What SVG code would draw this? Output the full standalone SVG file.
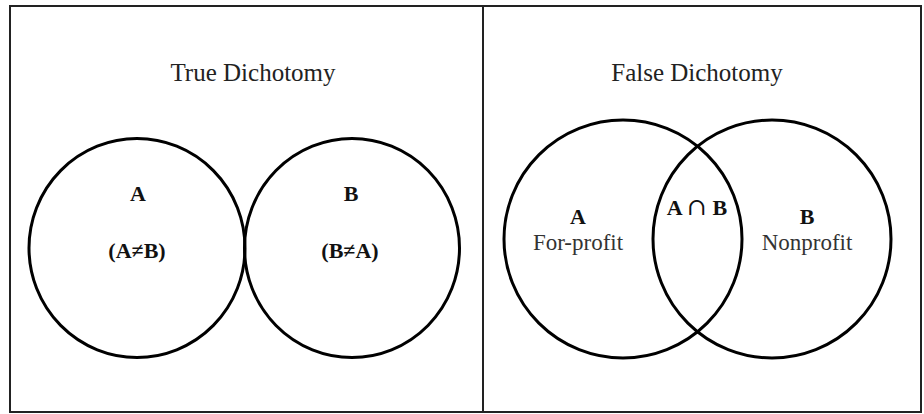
<svg xmlns="http://www.w3.org/2000/svg" width="924" height="414" viewBox="0 0 924 414">
<style>
.frame{fill:none;stroke:#222;stroke-width:2}
.circ{fill:none;stroke:#000;stroke-width:3}
.title{font-family:"Liberation Serif",serif;font-size:25px;fill:#222;text-anchor:middle}
.lbl{font-family:"Liberation Serif",serif;font-size:22px;font-weight:bold;fill:#111;text-anchor:middle}
.sub{font-family:"Liberation Serif",serif;font-size:23px;fill:#333;text-anchor:middle}
.cap{font-family:"DejaVu Serif",serif;font-size:24px;font-weight:normal}
</style>
<rect width="924" height="414" fill="#fff"/>
<g id="frame">
<rect class="frame" x="10" y="6" width="911" height="406"/>
<line class="frame" x1="483" y1="6" x2="483" y2="412"/>
</g>
<g id="true-dichotomy">
<text class="title" x="253" y="81">True Dichotomy</text>
<g id="true-A">
<ellipse class="circ" cx="137" cy="248" rx="108" ry="109.5"/>
<text class="lbl" x="138" y="201">A</text>
<text class="lbl" x="137" y="258">(A≠B)</text>
</g>
<g id="true-B">
<ellipse class="circ" cx="352" cy="248" rx="107.5" ry="109.5"/>
<text class="lbl" x="351" y="201">B</text>
<text class="lbl" x="350" y="258">(B≠A)</text>
</g>
</g>
<g id="false-dichotomy">
<text class="title" x="697" y="81">False Dichotomy</text>
<g id="false-A">
<circle class="circ" cx="623" cy="239" r="119"/>
<text class="lbl" x="578" y="224">A</text>
<text class="sub" x="578" y="250">For-profit</text>
</g>
<g id="false-B">
<circle class="circ" cx="772" cy="239" r="119"/>
<text class="lbl" x="807" y="224">B</text>
<text class="sub" x="807" y="250">Nonprofit</text>
</g>
<g id="intersection">
<text class="lbl" x="697" y="215">A <tspan class="cap">∩</tspan> B</text>
</g>
</g>
<g id="connectors"/>
</svg>
